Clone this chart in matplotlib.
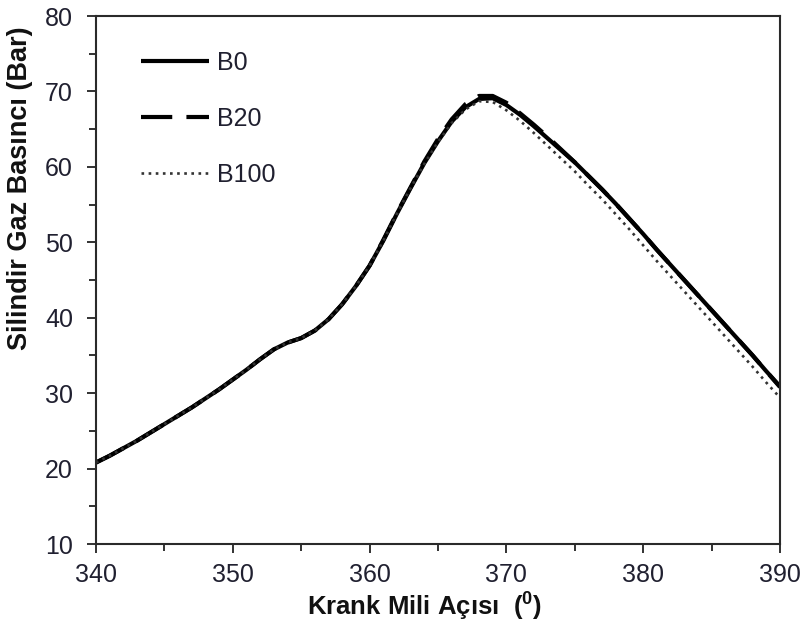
import matplotlib
matplotlib.use("Agg")
import matplotlib.pyplot as plt
from matplotlib.ticker import MultipleLocator

plt.rcParams['font.family'] = ['Liberation Sans', 'DejaVu Sans']
plt.rcParams['mathtext.fontset'] = 'custom'
plt.rcParams['mathtext.rm'] = 'Liberation Sans'
plt.rcParams['mathtext.bf'] = 'Liberation Sans:bold'

# Crank angle (degrees)
crank_angle = list(range(340, 391))

# Cylinder gas pressure (bar)
p_b0 = [20.8, 21.7, 22.7, 23.7, 24.8, 25.9, 27.0, 28.1, 29.3, 30.5,
        31.8, 33.1, 34.5, 35.8, 36.7, 37.3, 38.3, 39.8, 41.8, 44.2,
        46.9, 50.2, 53.8, 57.2, 60.5, 63.4, 66.0, 67.9, 69.0, 69.1,
        68.2, 66.9, 65.4, 63.8, 62.2, 60.6, 58.8, 57.0, 55.1, 53.1,
        51.1, 49.0, 47.0, 45.0, 43.0, 41.0, 39.0, 37.0, 35.0, 32.9,
        30.9]
p_b20 = [20.8, 21.7, 22.7, 23.7, 24.8, 25.9, 27.0, 28.1, 29.3, 30.5,
         31.8, 33.1, 34.5, 35.8, 36.7, 37.3, 38.3, 39.8, 41.8, 44.2,
         46.9, 50.3, 53.9, 57.3, 60.7, 63.7, 66.3, 68.3, 69.4, 69.4,
         68.5, 67.1, 65.6, 64.0, 62.3, 60.6, 58.8, 57.0, 55.1, 53.1,
         51.1, 49.0, 47.0, 45.0, 43.0, 41.0, 39.0, 37.0, 35.0, 32.9,
         30.8]
p_b100 = [20.8, 21.7, 22.7, 23.7, 24.8, 25.9, 27.0, 28.1, 29.3, 30.5,
          31.8, 33.1, 34.5, 35.8, 36.7, 37.3, 38.3, 39.8, 41.8, 44.2,
          46.9, 50.2, 53.8, 57.2, 60.4, 63.3, 65.8, 67.6, 68.7, 68.6,
          67.5, 66.1, 64.5, 62.8, 61.1, 59.4, 57.5, 55.7, 53.7, 51.7,
          49.6, 47.5, 45.5, 43.5, 41.5, 39.5, 37.5, 35.5, 33.5, 31.4,
          29.4]

x_ticks = [340, 350, 360, 370, 380, 390]
y_ticks = [10, 20, 30, 40, 50, 60, 70, 80]

fig = plt.figure(figsize=(8.08, 6.26), dpi=100)
ax = fig.add_axes([96 / 808, 1 - 544 / 626, 684 / 808, 528 / 626])

ax.plot(crank_angle, p_b0, color='black', lw=3.0, ls='-', label='B0',
        solid_capstyle='butt')
ax.plot(crank_angle, p_b20, color='black', lw=3.0, ls=(0, (7.5, 3.4)),
        label='B20')
ax.plot(crank_angle, p_b100, color='#333333', lw=1.9, ls=(0, (1, 1.7)),
        label='B100')

ax.set_xlim(340, 390)
ax.set_ylim(10, 80)
ax.set_xticks(x_ticks)
ax.set_yticks(y_ticks)
ax.xaxis.set_minor_locator(MultipleLocator(5))
ax.yaxis.set_minor_locator(MultipleLocator(5))

tick_color = '#202030'
ax.tick_params(axis='both', which='both', direction='out', color='#222222',
               width=1.3, top=False, right=False)
ax.tick_params(axis='both', which='major', length=6.5, labelsize=18,
               labelcolor=tick_color)
ax.tick_params(axis='both', which='minor', length=5)
ax.tick_params(axis='x', which='major', pad=7)
ax.tick_params(axis='y', which='major', pad=10)

for side in ['left', 'bottom', 'top', 'right']:
    ax.spines[side].set_linewidth(1.5)
    ax.spines[side].set_color('#2a2a2a')

ax.set_xlabel('Krank Mili Açısı  (' + r'$^{\mathbf{0}}$' + ')',
              fontsize=18.5, fontweight='bold', color='#111111')
ax.xaxis.set_label_coords(0.48, -0.085)
ax.set_ylabel('Silindir Gaz Basıncı (Bar)', fontsize=19.5, fontweight='bold',
              color='#111111')
ax.yaxis.set_label_coords(-0.092, 0.674)

leg = ax.legend(loc='upper left', bbox_to_anchor=(0.048, 0.957), frameon=False,
                fontsize=18, handlelength=2.72, handletextpad=0.32,
                labelspacing=1.28, borderpad=0.0)
for t in leg.get_texts():
    t.set_color(tick_color)

fig.savefig('out.png', dpi=100)
